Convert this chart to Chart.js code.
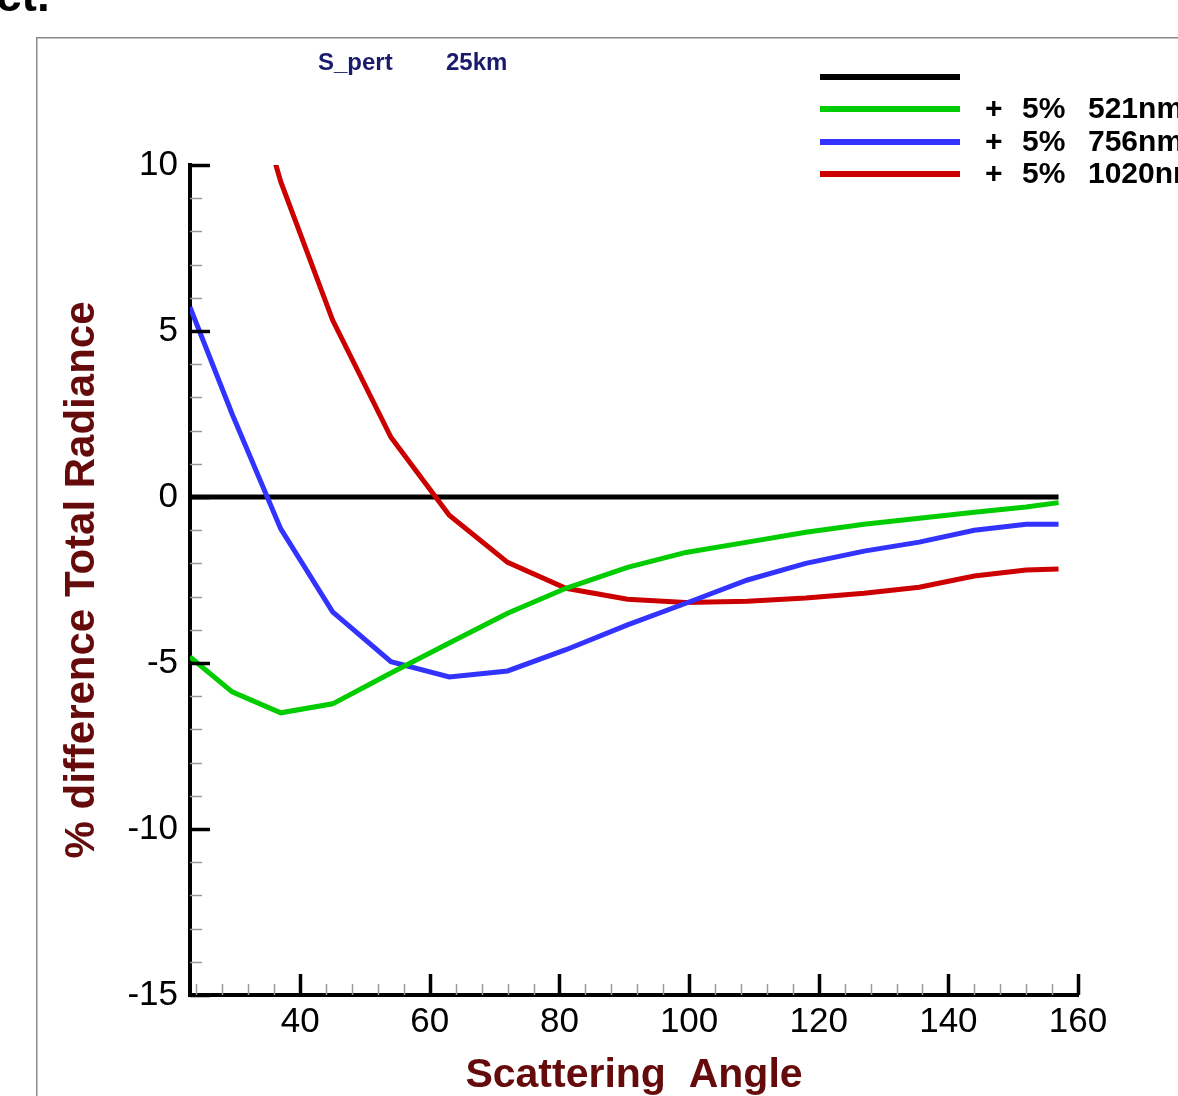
<!DOCTYPE html>
<html>
<head>
<meta charset="utf-8">
<script src="https://cdn.jsdelivr.net/npm/chart.js@4.4.1/dist/chart.umd.min.js"></script>
<style>
  html, body { margin: 0; padding: 0; background: #fff; overflow: hidden; }
</style>
</head>
<body>
<canvas id="radiance-canvas" width="1178" height="1096"></canvas>
<script>
// Scattering angles (deg) shared by all three curves
const angles = [23, 29.5, 37, 45, 54, 63, 72, 81, 90.5, 99.5, 109, 118, 127, 135.5, 144, 152, 157];
// % difference in total radiance for a +5% perturbation
const green521 = [-4.82, -5.87, -6.5, -6.23, -5.3, -4.4, -3.5, -2.75, -2.12, -1.67, -1.36, -1.06, -0.82, -0.64, -0.46, -0.3, -0.17];
const blue756 = [5.72, 2.5, -0.96, -3.46, -4.96, -5.42, -5.24, -4.6, -3.85, -3.2, -2.5, -2.0, -1.63, -1.36, -1.0, -0.82, -0.82];
const red1020 = [20.5, 14.5, 9.5, 5.33, 1.8, -0.55, -1.97, -2.75, -3.08, -3.18, -3.14, -3.04, -2.9, -2.72, -2.38, -2.2, -2.17];
// Reference (zero) line
const zeroAngles = [23, 157];
const zeroValues = [0, 0];

const seriesLabels = ["", "+ 5% 521nm", "+ 5% 756nm", "+ 5% 1020nm"];
const xTickValues = [40, 60, 80, 100, 120, 140, 160];
const yTickValues = [-15, -10, -5, 0, 5, 10];
const plotTitle = ["S_pert", "25km"];
const cornerText = "ct.";

const maroon = "#650b0b";
const sans = "'Liberation Sans', Arial, sans-serif";

function toPoints(xs, ys) {
    let pts = [];
    for (let i = 0; i < xs.length; i++) {
        pts.push({x: xs[i], y: ys[i]});
    }
    return pts;
}

// Frame, title, legend and the inward tick marks
const decorations = {
    id: "decorations",
    beforeDraw(chart) {
        const ctx = chart.ctx;
        ctx.save();
        ctx.fillStyle = "#fff";
        ctx.fillRect(0, 0, chart.width, chart.height);
        ctx.strokeStyle = "#8a8a8a";
        ctx.lineWidth = 1.5;
        ctx.strokeRect(36.75, 37.75, 2000, 2000);
        ctx.fillStyle = "#000";
        ctx.font = "bold 46px " + sans;
        ctx.textBaseline = "alphabetic";
        ctx.fillText(cornerText, -4, 11);
        ctx.restore();
    },
    afterDraw(chart) {
        const ctx = chart.ctx;
        const area = chart.chartArea;
        const xs = chart.scales.x;
        const ys = chart.scales.y;
        ctx.save();
        ctx.lineCap = "butt";

        // y ticks: major every 5, minor every 1
        for (let v = ys.min; v <= ys.max; v++) {
            const py = Math.round(ys.getPixelForValue(v)) + 0.5;
            const major = v % 5 === 0;
            ctx.strokeStyle = major ? "#000" : "#9a9a9a";
            ctx.lineWidth = major ? 3.5 : 1.5;
            ctx.beginPath();
            ctx.moveTo(area.left, py);
            ctx.lineTo(area.left + (major ? 20 : 12), py);
            ctx.stroke();
        }
        // x ticks: major every 20, minor every 4
        for (let v = 24; v <= xs.max; v += 4) {
            const px = Math.round(xs.getPixelForValue(v)) + 0.5;
            const major = v % 20 === 0;
            ctx.strokeStyle = major ? "#000" : "#9a9a9a";
            ctx.lineWidth = major ? 3.5 : 1.5;
            ctx.beginPath();
            ctx.moveTo(px, area.bottom);
            ctx.lineTo(px, area.bottom - (major ? 21 : 11));
            ctx.stroke();
        }

        // small title
        ctx.fillStyle = "#1b1b6b";
        ctx.font = "bold 24px " + sans;
        ctx.textBaseline = "alphabetic";
        ctx.textAlign = "left";
        ctx.fillText(plotTitle[0], 318, 70);
        ctx.fillText(plotTitle[1], 446, 70);

        // legend
        const rows = [77, 109, 142, 174];
        const cols = [985, 1022, 1088];
        chart.data.datasets.forEach((ds, i) => {
            ctx.strokeStyle = ds.borderColor;
            ctx.lineWidth = 6;
            ctx.beginPath();
            ctx.moveTo(820, rows[i]);
            ctx.lineTo(960, rows[i]);
            ctx.stroke();
            if (ds.label) {
                ctx.fillStyle = "#000";
                ctx.font = "bold 30px " + sans;
                ctx.textBaseline = "middle";
                ds.label.split(" ").forEach((part, k) => {
                    ctx.fillText(part, cols[k], rows[i] + 1);
                });
            }
        });
        ctx.restore();
    }
};

const datasets = [
    {label: seriesLabels[0], data: toPoints(zeroAngles, zeroValues), borderColor: "#000000", order: 1},
    {label: seriesLabels[1], data: toPoints(angles, green521), borderColor: "#00cc00", order: 0},
    {label: seriesLabels[2], data: toPoints(angles, blue756), borderColor: "#3333ff", order: 0},
    {label: seriesLabels[3], data: toPoints(angles, red1020), borderColor: "#cc0000", order: 0}
];
datasets.forEach(ds => {
    ds.borderWidth = 5;
    ds.pointRadius = 0;
    ds.tension = 0;
    ds.fill = false;
    ds.clip = 0;
});

const radianceChart = new Chart(document.getElementById("radiance-canvas"), {
    type: "line",
    data: {datasets: datasets},
    plugins: [decorations],
    options: {
        responsive: false,
        animation: false,
        devicePixelRatio: 1,
        layout: {padding: {left: 40, top: 165, right: 100, bottom: 0}},
        plugins: {
            legend: {display: false},
            tooltip: {enabled: false}
        },
        events: [],
        scales: {
            x: {
                type: "linear",
                min: 23,
                max: 160,
                afterBuildTicks: scale => { scale.ticks = xTickValues.map(v => ({value: v})); },
                afterFit: scale => { scale.height = 101; },
                grid: {display: false},
                border: {display: true, color: "#000", width: 4},
                ticks: {
                    color: "#000",
                    padding: -2,
                    maxRotation: 0,
                    autoSkip: false,
                    font: {family: sans, size: 35}
                },
                title: {
                    display: true,
                    text: "Scattering  Angle",
                    color: maroon,
                    font: {family: sans, size: 41, weight: "bold"},
                    padding: {top: 0, bottom: -4}
                }
            },
            y: {
                type: "linear",
                min: -15,
                max: 10,
                afterBuildTicks: scale => { scale.ticks = yTickValues.map(v => ({value: v})); },
                afterFit: scale => { scale.width = 150; },
                grid: {display: false},
                border: {display: true, color: "#000", width: 4},
                ticks: {
                    color: "#000",
                    padding: 4,
                    autoSkip: false,
                    font: {family: sans, size: 35}
                },
                title: {
                    display: true,
                    text: "% difference Total Radiance",
                    color: maroon,
                    font: {family: sans, size: 42, weight: "bold"},
                    padding: {top: 17, bottom: 0}
                }
            }
        }
    }
});
</script>
</body>
</html>
